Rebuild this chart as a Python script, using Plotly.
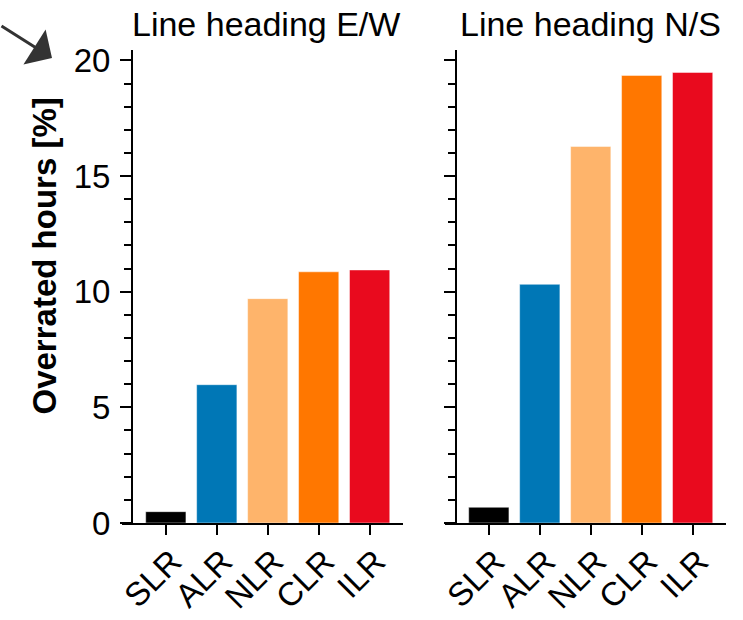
import plotly.graph_objects as go

# Overrated hours per rating method, for two line headings
methods = ["SLR", "ALR", "NLR", "CLR", "ILR"]
ew_values = [0.49, 5.98, 9.70, 10.86, 10.94]
ns_values = [0.68, 10.32, 16.28, 19.35, 19.48]
panel_titles = ["Line heading E/W", "Line heading N/S"]
y_ticks = [0, 5, 10, 15, 20]
bar_colors = ["#000000", "#0077b6", "#feb46b", "#ff7700", "#e90a1e"]

W, H = 743, 620
FONT = "Liberation Sans, Arial, Helvetica, sans-serif"


def px(x):
    return x / W


def py(y):
    return 1 - y / H


fig = go.Figure()
for vals, xa, ya in [(ew_values, "x", "y"), (ns_values, "x2", "y2")]:
    fig.add_trace(go.Bar(
        x=methods, y=vals, xaxis=xa, yaxis=ya,
        marker=dict(color=bar_colors, line=dict(color="rgba(255,255,255,0.6)", width=0.8)),
        width=0.79, showlegend=False,
    ))

y_dom = [py(523), py(50)]
y_range = [0, 20.45]

common_x = dict(
    type="category", categoryorder="array", categoryarray=methods,
    range=[-0.86, 4.655], showline=True, linewidth=2, linecolor="black",
    ticks="outside", ticklen=10, tickwidth=2, tickcolor="black",
    tickangle=-45, tickfont=dict(size=33, color="black", family=FONT),
    ticklabelshift=6, ticklabelstandoff=-6,
    showgrid=False, zeroline=False, automargin=False,
)
common_y = dict(
    range=y_range, tickvals=y_ticks, showline=True, linewidth=2, linecolor="black",
    ticks="outside", ticklen=11, tickwidth=2, tickcolor="black",
    minor=dict(dtick=1, ticks="outside", ticklen=7, tickwidth=2, tickcolor="black", showgrid=False),
    tickfont=dict(size=33, color="black", family=FONT),
    showgrid=False, zeroline=False, domain=y_dom, anchor="free", automargin=False,
)

fig.update_layout(
    width=W, height=H, margin=dict(l=0, r=0, t=0, b=0),
    paper_bgcolor="white", plot_bgcolor="white",
    font=dict(family=FONT, color="black"),
    bargap=0.2,
    xaxis=dict(domain=[px(122), px(403)], anchor="y", **common_x),
    xaxis2=dict(domain=[px(445), px(726)], anchor="y2", **common_x),
    yaxis=dict(position=px(132), ticklabelstandoff=3, **common_y),
    yaxis2=dict(position=px(456), showticklabels=False, **common_y),
)

# panel titles
for title, cx in zip(panel_titles, [266, 590]):
    fig.add_annotation(
        text=title, x=px(cx), y=py(24), xref="paper", yref="paper",
        xanchor="center", yanchor="middle", showarrow=False,
        font=dict(size=34, family=FONT, color="black"),
    )

# shared y-axis title
fig.add_annotation(
    text="<b>Overrated hours [%]</b>", x=px(44), y=py(256.5), xref="paper", yref="paper",
    xanchor="center", yanchor="middle", textangle=-90, showarrow=False,
    font=dict(size=33, family=FONT, color="black"),
)

# pointer arrow in the corner
fig.add_annotation(
    text="", x=px(52), y=py(58), xref="paper", yref="paper",
    ax=-58, ay=-33, axref="pixel", ayref="pixel",
    showarrow=True, arrowhead=1, arrowsize=2.3, arrowwidth=3, arrowcolor="#333333",
)

fig.write_html("out.html")
